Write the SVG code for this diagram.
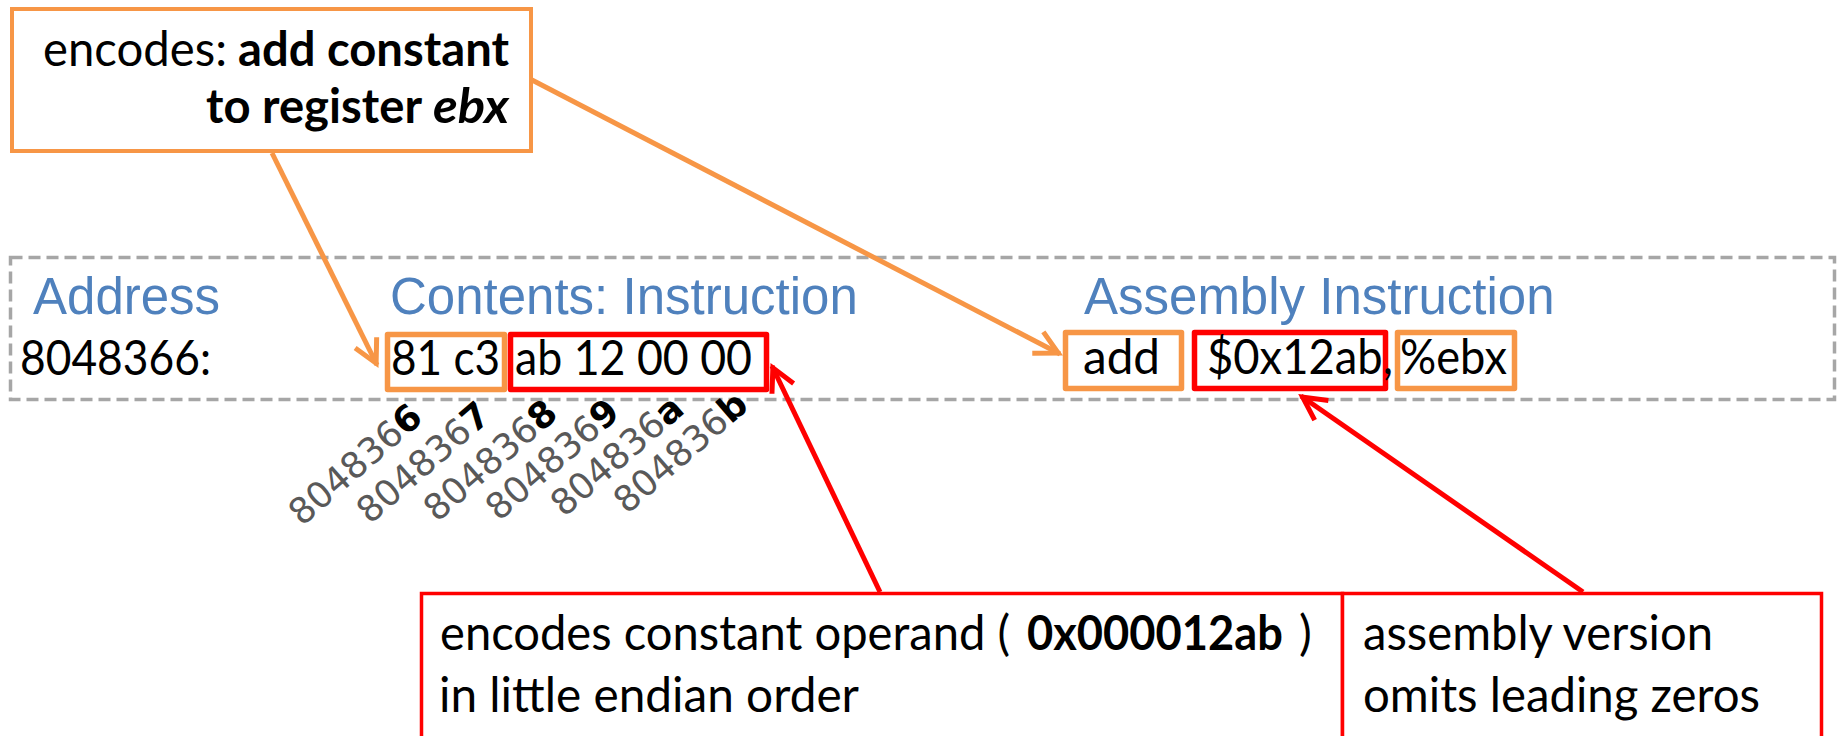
<svg xmlns="http://www.w3.org/2000/svg" width="1839" height="736" viewBox="0 0 1839 736">
  <style>
    .body { font-family: Lato, "Open Sans", sans-serif; font-size: 48px; fill: #000; }
    .b { font-weight: bold; }
    .bi { font-weight: bold; font-style: italic; }
    .head { font-family: "Liberation Sans", Arial, sans-serif; font-size: 51px; fill: #4F81BD; }
    .addr { font-family: "DejaVu Sans", sans-serif; font-size: 36px; fill: #595959; }
    .addr tspan { font-weight: bold; fill: #000; }
    .obox { fill: none; stroke: #F79646; stroke-width: 5.5; stroke-linejoin: round; }
    .rbox { fill: none; stroke: #FF0000; stroke-width: 5.5; stroke-linejoin: round; }
    .note-o { fill: #fff; stroke: #F79646; stroke-width: 4; }
    .note-r { fill: #fff; stroke: #FF0000; stroke-width: 3.5; }
    .frame { fill: none; stroke: #A6A6A6; stroke-width: 3.5; stroke-dasharray: 12 6; }
    .link-o { fill: none; stroke: #F79646; stroke-width: 5; marker-end: url(#head-o); }
    .link-r { fill: none; stroke: #FF0000; stroke-width: 5; marker-end: url(#head-r); }
  </style>
  <defs>
    <marker id="head-o" viewBox="-30 -16 38 32" refX="2" refY="0" markerWidth="38" markerHeight="32" markerUnits="userSpaceOnUse" orient="auto">
      <path d="M-23,-12 L0,0 L-23,12" fill="none" stroke="#F79646" stroke-width="5"/>
    </marker>
    <marker id="head-r" viewBox="-30 -16 38 32" refX="2" refY="0" markerWidth="38" markerHeight="32" markerUnits="userSpaceOnUse" orient="auto">
      <path d="M-23,-12 L0,0 L-23,12" fill="none" stroke="#FF0000" stroke-width="5"/>
    </marker>
  </defs>
  <rect width="1839" height="736" fill="#fff"/>

  <!-- instruction row: address, bytes, disassembly -->
  <g id="instruction-row">
    <rect class="frame" x="10.5" y="257.5" width="1824" height="142"/>
    <text class="head" x="33" y="314">Address</text>
    <text class="head" x="390" y="314">Contents: Instruction</text>
    <text class="head" x="1084" y="314">Assembly Instruction</text>
    <text class="body" x="20" y="375" textLength="191" lengthAdjust="spacingAndGlyphs">8048366:</text>
  </g>

  <g id="opcode-bytes">
    <rect class="obox" x="387.5" y="334.5" width="117" height="55"/>
    <text class="body" x="391" y="375" textLength="109" lengthAdjust="spacingAndGlyphs">81 c3</text>
  </g>
  <g id="operand-bytes">
    <rect class="rbox" x="510.5" y="334.5" width="256" height="55"/>
    <text class="body" x="515" y="375" textLength="237" lengthAdjust="spacingAndGlyphs">ab 12 00 00</text>
  </g>

  <g id="asm-op">
    <rect class="obox" x="1065.5" y="332.5" width="116" height="56"/>
    <text class="body" x="1083" y="374" textLength="77" lengthAdjust="spacingAndGlyphs">add</text>
  </g>
  <g id="asm-imm">
    <rect class="rbox" x="1194.5" y="332.5" width="191" height="56"/>
    <text class="body" x="1207" y="374" textLength="186" lengthAdjust="spacingAndGlyphs">$0x12ab,</text>
  </g>
  <g id="asm-reg">
    <rect class="obox" x="1397.5" y="332.5" width="117" height="56"/>
    <text class="body" x="1400" y="374" textLength="107" lengthAdjust="spacingAndGlyphs">%ebx</text>
  </g>

  <!-- byte addresses -->
  <g id="byte-addresses">
    <text class="addr" transform="translate(302,527) rotate(-41)">804836<tspan>6</tspan></text>
    <text class="addr" transform="translate(370,525) rotate(-41)">804836<tspan>7</tspan></text>
    <text class="addr" transform="translate(437,523) rotate(-41)">804836<tspan>8</tspan></text>
    <text class="addr" transform="translate(499,522) rotate(-41)">804836<tspan>9</tspan></text>
    <text class="addr" transform="translate(564,518) rotate(-41)">804836<tspan>a</tspan></text>
    <text class="addr" transform="translate(627,515) rotate(-41)">804836<tspan>b</tspan></text>
  </g>

  <!-- callouts -->
  <g id="note-opcode">
    <rect class="note-o" x="12" y="9" width="519" height="142"/>
    <text class="body" x="43" y="66" textLength="184" lengthAdjust="spacingAndGlyphs">encodes:</text>
    <text class="body b" x="238" y="66" textLength="271" lengthAdjust="spacingAndGlyphs">add constant</text>
    <text class="body b" x="206" y="123" textLength="216" lengthAdjust="spacingAndGlyphs">to register</text>
    <text class="body bi" x="433" y="123" textLength="76" lengthAdjust="spacingAndGlyphs">ebx</text>
  </g>

  <g id="note-endian">
    <rect class="note-r" x="421.5" y="593.5" width="921" height="170"/>
    <text class="body" x="440" y="650" textLength="570" lengthAdjust="spacingAndGlyphs">encodes constant operand (</text>
    <text class="body b" x="1027" y="650" textLength="256" lengthAdjust="spacingAndGlyphs">0x000012ab</text>
    <text class="body" x="1299" y="650">)</text>
    <text class="body" x="439" y="712" textLength="420" lengthAdjust="spacingAndGlyphs">in little endian order</text>
  </g>

  <g id="note-zeros">
    <rect class="note-r" x="1342.5" y="593.5" width="479" height="170"/>
    <text class="body" x="1363" y="650" textLength="350" lengthAdjust="spacingAndGlyphs">assembly version</text>
    <text class="body" x="1363" y="712" textLength="397" lengthAdjust="spacingAndGlyphs">omits leading zeros</text>
  </g>

  <!-- connectors -->
  <g id="connectors">
    <line class="link-o" x1="272" y1="153" x2="377" y2="365"/>
    <line class="link-o" x1="532" y1="80" x2="1060" y2="354"/>
    <line class="link-r" x1="880" y1="592" x2="772" y2="366"/>
    <line class="link-r" x1="1583" y1="592" x2="1301" y2="396"/>
  </g>
</svg>
